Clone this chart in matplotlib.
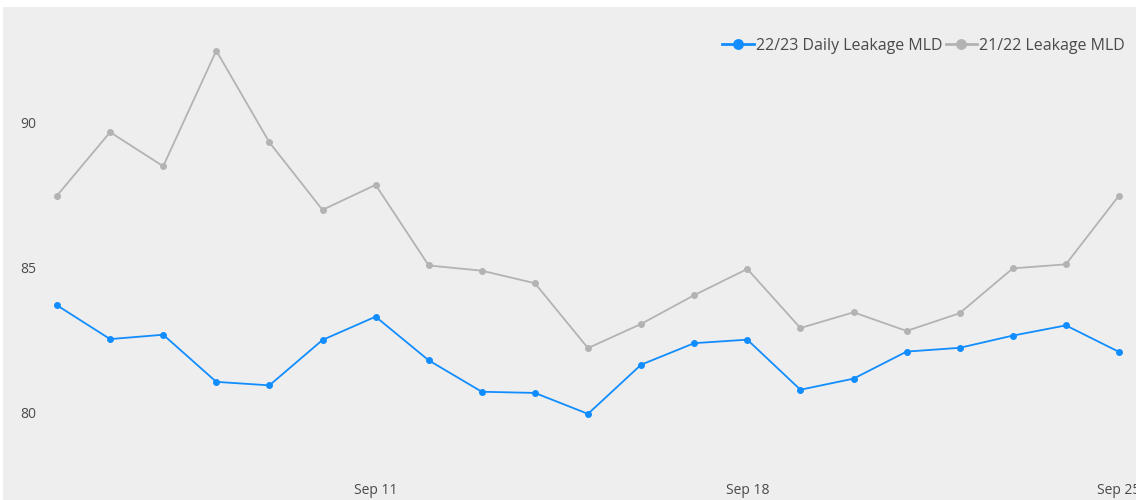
import matplotlib
matplotlib.use("Agg")
import matplotlib.pyplot as plt
import matplotlib.dates as mdates
from matplotlib.patches import Rectangle
import pandas as pd

# Daily dates, 5 to 25 September
dates = pd.date_range("2022-09-05", "2022-09-25", freq="D")

leak_2223 = [83.70, 82.54, 82.69, 81.07, 80.95, 82.51, 83.31, 81.81, 80.73, 80.69,
             79.97, 81.66, 82.40, 82.52, 80.80, 81.18, 82.11, 82.24, 82.66, 83.01, 82.10]
leak_2122 = [87.47, 89.65, 88.48, 92.45, 89.30, 86.98, 87.84, 85.07, 84.89, 84.46,
             82.23, 83.06, 84.05, 84.95, 82.92, 83.46, 82.82, 83.43, 84.97, 85.11, 87.47]

series_names = ["22/23 Daily Leakage MLD", "21/22 Leakage MLD"]
y_ticks = [80, 85, 90]
x_tick_dates = ["2022-09-11", "2022-09-18", "2022-09-25"]

BLUE = "#118DFF"
GREY = "#B3B3B3"
BG = "#EEEEEE"
TEXT = "#4A4A4A"

plt.rcParams["font.family"] = ["Open Sans", "DejaVu Sans"]

W, H = 1136, 500
fig = plt.figure(figsize=(W / 100, H / 100), dpi=100, facecolor="white")
fig.patches.append(Rectangle((3 / W, 0), 1 - 3 / W, (H - 7) / H,
                             transform=fig.transFigure, facecolor=BG,
                             edgecolor="none", zorder=-10))

ax_left, ax_right, ax_top, ax_bottom = 40, 1136, 20, 470
ax = fig.add_axes([ax_left / W, (H - ax_bottom) / H,
                   (ax_right - ax_left) / W, (ax_bottom - ax_top) / H])
ax.set_facecolor("none")

ax.plot(dates, leak_2223, color=BLUE, lw=1.3, marker="o", ms=4, label=series_names[0], zorder=3)
ax.plot(dates, leak_2122, color=GREY, lw=1.3, marker="o", ms=4, label=series_names[1], zorder=2)

# x range: first day at pixel 57, last at 1119
first_px, last_px = 57, 1119
step = (last_px - first_px) / (len(dates) - 1)
x0 = mdates.date2num(dates[0]) - (first_px - ax_left) / step
x1 = mdates.date2num(dates[-1]) + (ax_right - last_px) / step
ax.set_xlim(x0, x1)

# y range: 80 at pixel 413, 90 at pixel 122
ppu = (413 - 122) / 10
ax.set_ylim(80 - (ax_bottom - 413) / ppu, 80 + (413 - ax_top) / ppu)

ax.set_yticks(y_ticks)
ax.set_xticks(pd.to_datetime(x_tick_dates))
ax.xaxis.set_major_formatter(mdates.DateFormatter("%b %-d"))
ax.tick_params(axis="both", length=0, labelsize=10, labelcolor=TEXT)
ax.tick_params(axis="y", pad=14.4)
ax.tick_params(axis="x", pad=9)
for lbl in ax.get_yticklabels():
    lbl.set_horizontalalignment("left")
for s in ax.spines.values():
    s.set_visible(False)

leg = ax.legend(loc="upper right", bbox_to_anchor=(1.0, 0.985), ncol=2, frameon=False,
                fontsize=11.5, handlelength=2.0, handletextpad=0.1, columnspacing=0.2,
                labelcolor=TEXT, borderaxespad=0.3, markerscale=1.7)
for h in leg.legend_handles:
    h.set_linewidth(2.0)

fig.savefig("out.png", dpi=100, facecolor=fig.get_facecolor())
